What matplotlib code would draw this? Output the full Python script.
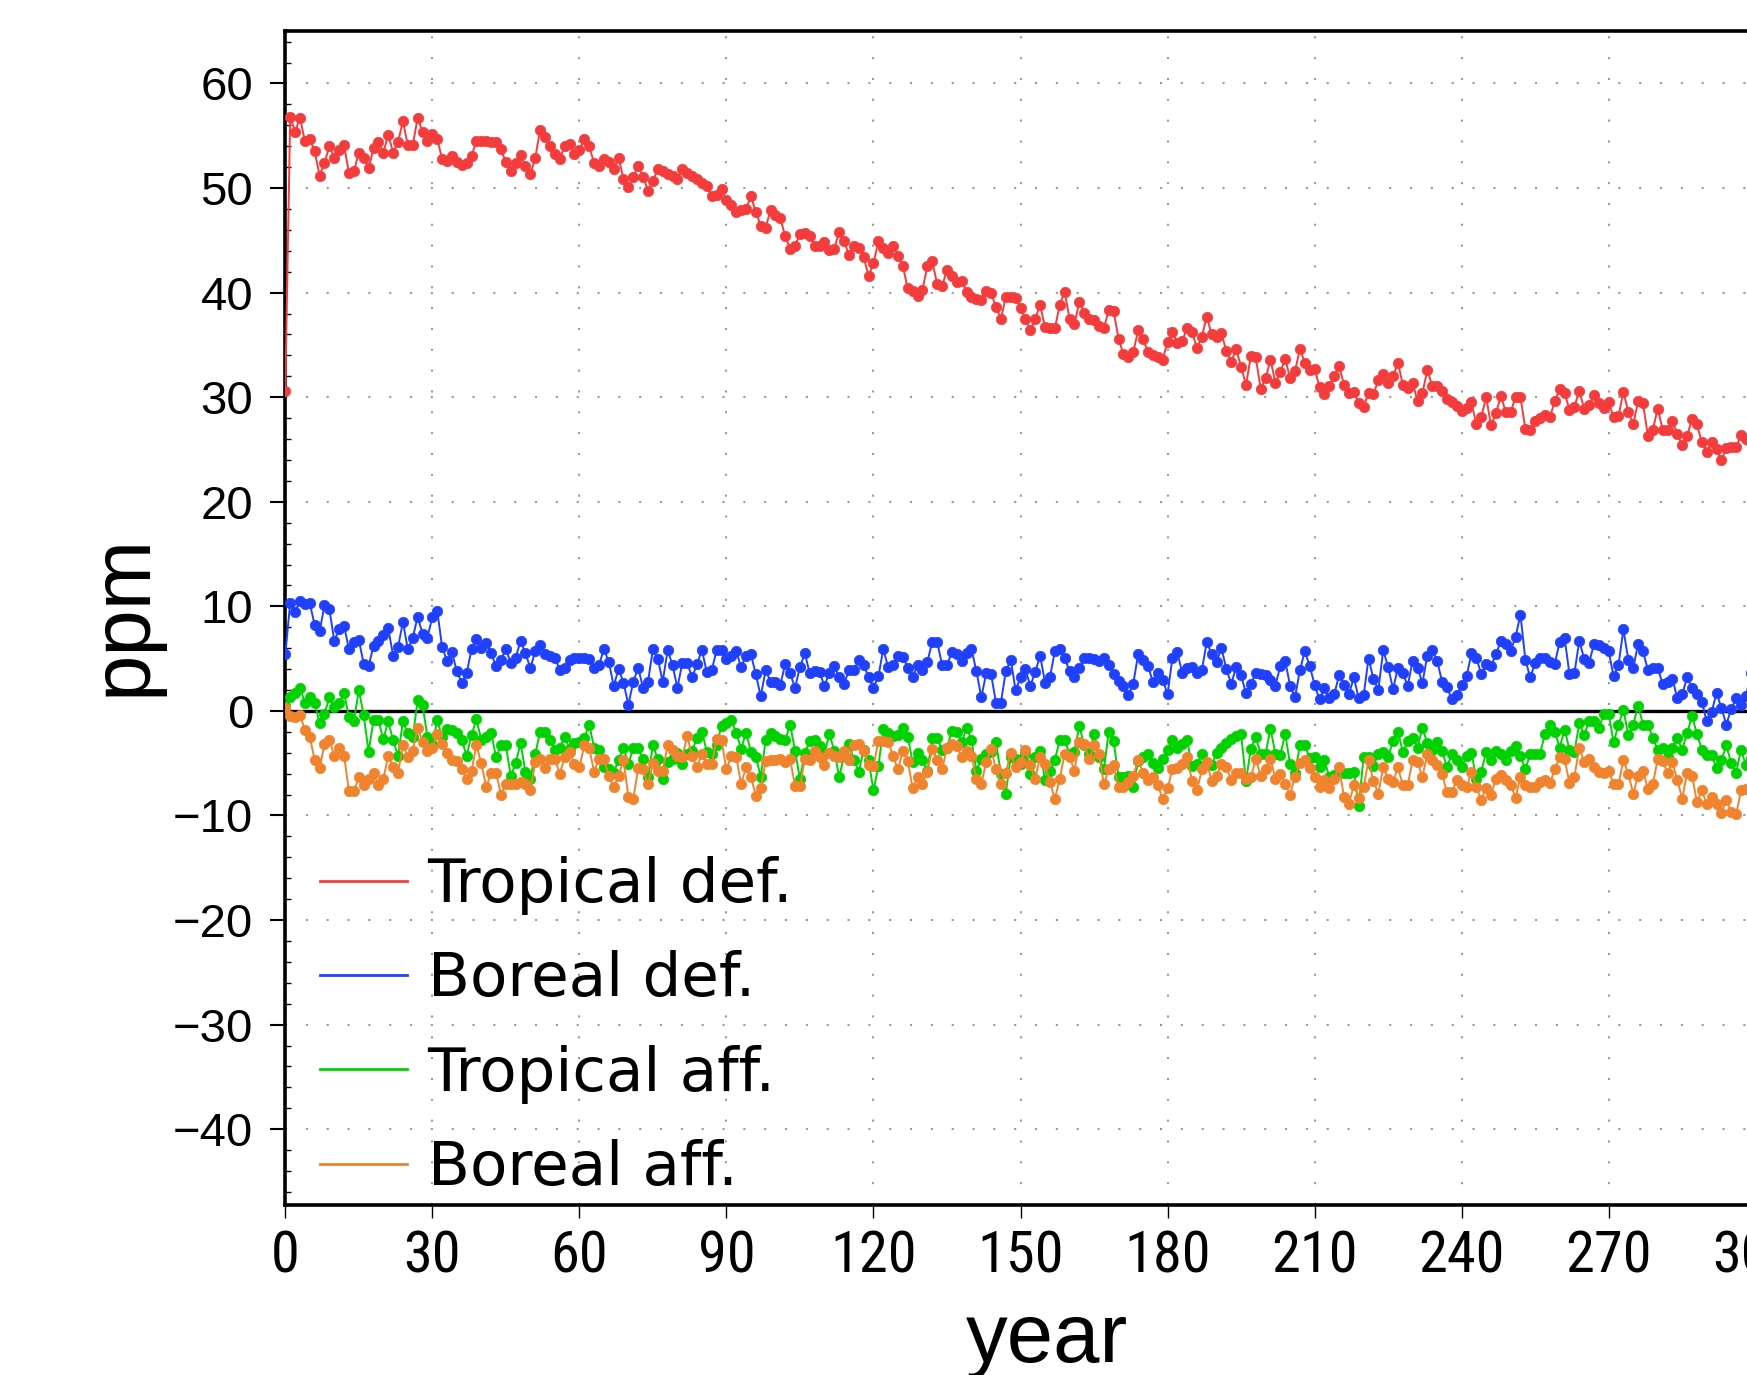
import numpy as np
import matplotlib.pyplot as plt
from matplotlib.lines import Line2D
from matplotlib.ticker import MultipleLocator
from matplotlib import font_manager

# values, one per year (0..299)
tropical_def = [
    30.6, 56.8, 55.4, 56.7, 54.5, 54.7, 53.5, 51.2, 52.4, 54.0,
    52.9, 53.6, 54.1, 51.4, 51.6, 53.4, 52.9, 51.9, 53.8, 54.4,
    53.4, 55.1, 53.4, 54.4, 56.4, 54.1, 54.1, 56.7, 55.4, 54.5,
    55.2, 54.7, 52.8, 52.6, 53.1, 52.5, 52.2, 52.4, 53.1, 54.5,
    54.5, 54.5, 54.4, 54.4, 53.7, 52.5, 51.6, 52.4, 53.2, 52.1,
    51.3, 52.9, 55.6, 54.9, 54.0, 53.3, 52.8, 54.0, 54.2, 53.3,
    53.6, 54.7, 54.0, 52.4, 52.1, 52.8, 52.5, 51.8, 52.9, 50.9,
    50.1, 51.1, 52.1, 51.1, 49.7, 50.7, 51.8, 51.6, 51.3, 51.2,
    50.9, 51.8, 51.4, 51.2, 50.9, 50.5, 50.2, 49.2, 49.3, 49.9,
    48.9, 48.4, 47.7, 47.9, 48.0, 49.2, 47.7, 46.4, 46.2, 47.9,
    47.4, 47.1, 45.4, 44.2, 44.5, 45.6, 45.7, 45.4, 44.5, 44.5,
    44.8, 44.1, 44.2, 45.8, 44.9, 43.6, 44.5, 44.3, 43.4, 41.6,
    42.8, 44.9, 44.3, 43.8, 44.5, 43.5, 42.5, 40.4, 40.2, 39.7,
    40.3, 42.5, 43.0, 40.8, 40.6, 42.2, 41.6, 41.0, 41.1, 40.1,
    39.6, 39.4, 39.3, 40.2, 40.0, 38.6, 37.5, 39.6, 39.6, 39.5,
    38.5, 37.5, 36.4, 37.5, 38.8, 36.7, 36.6, 36.6, 38.8, 40.1,
    37.5, 37.0, 39.1, 38.1, 37.5, 37.4, 36.8, 36.6, 38.3, 38.2,
    35.6, 34.1, 33.8, 34.3, 36.4, 35.6, 34.3, 34.0, 33.8, 33.6,
    35.3, 36.2, 35.2, 35.4, 36.6, 36.2, 34.7, 35.8, 37.7, 36.0,
    35.8, 36.1, 34.4, 33.4, 34.6, 32.9, 31.2, 33.9, 33.8, 30.8,
    31.8, 33.6, 31.4, 32.4, 33.7, 31.8, 32.5, 34.6, 33.3, 32.6,
    32.7, 31.0, 30.3, 31.1, 32.0, 33.0, 31.2, 30.4, 30.5, 29.4,
    29.1, 30.4, 30.3, 31.6, 32.2, 31.4, 32.0, 33.3, 31.2, 30.9,
    31.4, 29.6, 30.4, 32.6, 31.1, 31.1, 30.6, 29.8, 29.5, 29.2,
    28.7, 29.0, 29.5, 27.4, 28.1, 30.0, 27.3, 28.5, 30.1, 28.6,
    28.6, 30.0, 30.0, 27.0, 26.9, 27.7, 28.0, 28.3, 28.1, 29.6,
    30.8, 30.4, 28.8, 29.1, 30.6, 28.9, 29.3, 30.2, 29.4, 29.0,
    29.5, 28.1, 28.2, 30.5, 28.6, 27.4, 29.6, 29.4, 26.3, 26.9,
    28.9, 26.9, 26.9, 27.7, 26.5, 25.4, 26.3, 27.9, 27.4, 25.7,
    24.8, 25.7, 25.0, 24.0, 25.1, 25.2, 25.2, 26.4, 26.0, 25.6,
]

boreal_def = [
    5.4, 10.3, 9.5, 10.5, 10.2, 10.3, 8.2, 7.6, 10.1, 9.7,
    6.7, 7.8, 8.1, 5.9, 6.6, 6.8, 4.5, 4.3, 6.2, 6.7,
    7.3, 7.9, 5.3, 6.1, 8.5, 5.9, 7.0, 9.0, 7.4, 7.0,
    9.0, 9.6, 6.1, 4.8, 5.6, 3.8, 2.7, 3.6, 5.9, 6.9,
    6.0, 6.5, 5.5, 4.3, 4.9, 5.9, 4.6, 5.1, 6.7, 5.5,
    4.1, 5.7, 6.3, 5.4, 5.3, 5.1, 3.9, 4.1, 4.9, 5.1,
    5.1, 5.1, 5.0, 4.1, 4.4, 5.9, 4.7, 2.4, 4.0, 2.7,
    0.6, 2.8, 4.1, 2.2, 2.8, 5.9, 5.0, 2.8, 5.8, 4.4,
    2.2, 4.6, 4.6, 3.2, 4.5, 5.8, 3.7, 3.9, 5.8, 5.8,
    5.0, 5.3, 5.7, 4.2, 5.3, 5.4, 3.5, 1.4, 3.9, 2.8,
    2.8, 2.5, 4.5, 3.6, 2.2, 4.2, 5.5, 3.6, 3.8, 3.7,
    2.4, 3.6, 4.3, 3.2, 2.6, 3.9, 3.9, 4.9, 4.4, 3.2,
    2.2, 3.3, 5.9, 4.2, 4.4, 5.3, 5.2, 4.1, 3.2, 4.4,
    3.9, 4.7, 6.6, 6.6, 4.4, 4.4, 5.6, 5.4, 4.8, 5.5,
    5.9, 3.8, 1.3, 3.6, 3.5, 0.8, 0.8, 3.8, 4.9, 2.0,
    3.2, 4.0, 2.4, 3.7, 5.3, 2.7, 3.2, 5.7, 5.9, 5.1,
    3.8, 3.2, 4.1, 5.1, 5.1, 5.0, 4.8, 5.1, 4.4, 3.5,
    2.9, 2.4, 1.5, 2.6, 5.4, 4.9, 4.3, 2.8, 3.6, 3.0,
    1.6, 5.1, 5.6, 3.6, 4.1, 4.2, 3.6, 3.9, 6.6, 5.4,
    4.7, 6.0, 4.0, 2.6, 4.2, 3.4, 1.7, 2.6, 3.6, 3.5,
    3.4, 3.0, 2.4, 4.3, 4.8, 2.4, 1.3, 3.9, 5.7, 4.3,
    2.5, 1.1, 2.2, 1.2, 1.6, 3.4, 2.5, 1.6, 3.2, 1.2,
    1.5, 5.0, 3.1, 2.0, 5.8, 4.2, 2.1, 4.1, 3.6, 2.4,
    4.8, 4.1, 2.7, 5.3, 5.8, 4.8, 2.8, 2.3, 1.1, 1.5,
    2.5, 3.3, 5.5, 5.1, 3.5, 4.5, 4.3, 5.4, 6.7, 6.4,
    5.7, 7.1, 9.2, 4.9, 3.2, 4.6, 5.1, 5.1, 4.7, 4.5,
    6.6, 7.0, 3.5, 3.6, 6.7, 5.0, 4.6, 6.4, 6.3, 6.0,
    5.7, 3.3, 4.4, 7.8, 4.9, 4.1, 6.4, 5.7, 3.9, 4.1,
    4.1, 2.6, 2.8, 3.1, 1.2, 1.6, 3.2, 2.2, 1.6, 0.9,
    -1.0, -0.1, 1.7, 0.3, -1.3, 0.2, 1.2, 0.6, 1.4, 3.6,
]

tropical_aff = [
    0.5, 1.3, 1.7, 2.2, 0.8, 1.3, 0.8, -1.2, -0.3, 1.3,
    0.4, 0.8, 1.7, -0.6, -1.0, 2.0, -0.4, -3.9, -0.9, -0.9,
    -2.7, -1.0, -2.8, -4.3, -1.0, -2.1, -2.5, 1.0, 0.6, -2.5,
    -3.2, -0.9, -2.5, -1.7, -1.8, -2.1, -2.8, -4.3, -2.3, -0.8,
    -2.8, -2.5, -2.1, -4.4, -3.3, -3.3, -6.2, -5.0, -3.1, -5.8,
    -6.5, -4.1, -2.0, -2.0, -2.8, -3.7, -3.5, -2.5, -3.6, -3.1,
    -3.0, -2.6, -1.3, -3.5, -3.7, -5.4, -5.6, -5.9, -4.7, -3.5,
    -5.1, -3.5, -3.5, -4.6, -6.3, -3.3, -4.6, -6.5, -4.9, -4.6,
    -4.0, -5.1, -4.1, -3.8, -2.6, -2.0, -3.9, -4.1, -3.3, -1.4,
    -1.2, -0.9, -2.1, -3.6, -2.1, -3.9, -4.4, -6.3, -2.8, -2.1,
    -2.4, -2.7, -2.8, -1.3, -3.8, -6.5, -4.0, -2.9, -2.8, -3.4,
    -4.1, -2.2, -3.8, -6.3, -4.3, -3.2, -4.7, -5.8, -3.7, -4.7,
    -7.6, -5.3, -1.7, -2.1, -2.4, -2.3, -1.6, -2.5, -4.9, -4.0,
    -4.7, -5.7, -2.6, -2.6, -3.7, -3.5, -1.9, -2.0, -3.0, -1.6,
    -2.8, -5.7, -4.6, -4.1, -3.9, -3.0, -6.0, -7.9, -4.4, -4.6,
    -5.1, -4.1, -6.0, -4.4, -3.8, -6.6, -5.7, -4.7, -2.8, -2.8,
    -4.1, -3.9, -1.4, -3.3, -4.1, -2.2, -4.4, -5.6, -2.0, -2.9,
    -6.3, -6.3, -6.2, -7.3, -4.8, -4.4, -4.1, -5.0, -5.5, -4.6,
    -3.7, -2.8, -3.5, -3.2, -2.8, -5.3, -5.1, -4.1, -5.1, -5.2,
    -4.0, -3.5, -3.1, -2.7, -2.4, -2.2, -6.7, -3.6, -2.5, -4.1,
    -4.1, -1.7, -4.1, -4.2, -2.2, -5.1, -5.9, -3.3, -3.3, -4.5,
    -4.4, -5.4, -4.7, -6.3, -6.1, -5.8, -5.9, -5.9, -5.8, -9.1,
    -4.4, -4.4, -5.3, -4.1, -3.9, -4.4, -2.9, -2.0, -3.9, -2.9,
    -2.6, -3.5, -1.6, -3.1, -3.7, -3.0, -3.8, -5.4, -4.1, -4.7,
    -5.4, -4.3, -4.0, -6.5, -5.8, -3.9, -4.7, -3.8, -4.1, -4.7,
    -3.8, -3.4, -4.3, -5.6, -4.1, -4.1, -4.1, -2.2, -1.3, -2.0,
    -3.5, -1.8, -3.7, -3.9, -1.2, -2.3, -1.0, -1.0, -1.6, -0.3,
    -0.3, -3.0, -1.3, 0.1, -2.3, -1.3, 0.5, -1.3, -1.3, -2.6,
    -3.7, -3.5, -4.4, -3.5, -2.6, -3.7, -2.1, -0.5, -2.2, -3.7,
    -4.2, -4.2, -5.5, -4.7, -3.3, -5.0, -5.9, -3.7, -5.2, -4.5,
]

boreal_aff = [
    0.3, -0.5, -0.6, -0.4, -1.8, -2.5, -4.7, -5.5, -3.2, -2.8,
    -4.3, -3.5, -4.3, -7.7, -7.7, -6.3, -7.1, -6.5, -5.9, -7.1,
    -6.5, -4.3, -5.4, -5.9, -3.3, -4.4, -3.8, -1.6, -3.0, -3.8,
    -3.5, -2.2, -3.2, -4.0, -4.7, -4.8, -5.6, -6.5, -5.7, -3.3,
    -5.0, -7.3, -5.9, -5.9, -8.0, -7.0, -7.0, -7.0, -6.8, -7.0,
    -7.6, -4.9, -4.6, -5.5, -4.6, -4.6, -6.0, -4.4, -3.9, -5.1,
    -5.4, -3.3, -3.5, -5.8, -4.6, -4.6, -6.2, -7.3, -6.2, -4.7,
    -8.2, -8.4, -5.5, -5.6, -7.0, -5.0, -5.7, -5.7, -3.3, -3.7,
    -4.3, -4.4, -2.4, -4.3, -5.4, -4.1, -5.1, -5.1, -2.7, -2.8,
    -5.6, -4.3, -4.4, -7.0, -5.4, -6.3, -8.1, -7.4, -4.8, -4.7,
    -4.7, -4.6, -4.9, -4.6, -7.2, -7.2, -4.6, -4.7, -3.8, -4.4,
    -5.2, -4.0, -4.3, -4.4, -3.8, -4.7, -3.3, -3.2, -3.8, -5.2,
    -5.3, -2.9, -2.9, -3.0, -4.3, -5.6, -3.8, -4.8, -7.4, -6.3,
    -7.0, -5.8, -3.6, -4.7, -5.6, -3.5, -3.2, -3.4, -4.4, -3.8,
    -4.3, -6.5, -7.0, -4.9, -3.6, -5.6, -7.0, -5.9, -4.0, -5.4,
    -4.9, -3.7, -5.2, -6.5, -4.4, -5.1, -6.8, -8.4, -6.5, -4.1,
    -4.4, -5.7, -3.0, -3.2, -4.6, -3.3, -4.1, -7.0, -5.6, -5.2,
    -7.3, -7.3, -6.8, -6.2, -4.7, -5.9, -6.6, -6.3, -7.1, -8.4,
    -7.4, -5.6, -5.5, -5.1, -4.4, -6.7, -7.6, -5.6, -4.9, -6.7,
    -6.2, -5.1, -5.4, -6.6, -5.9, -5.9, -6.5, -6.3, -4.6, -6.2,
    -5.6, -4.6, -6.5, -6.0, -7.0, -8.0, -6.3, -5.0, -4.7, -5.5,
    -6.3, -7.3, -6.6, -7.4, -6.5, -5.4, -8.2, -8.9, -7.1, -8.3,
    -7.3, -4.7, -6.7, -7.9, -5.4, -6.5, -6.8, -5.4, -7.1, -7.1,
    -4.7, -4.9, -6.3, -4.1, -4.7, -5.2, -6.0, -7.8, -7.8, -6.6,
    -7.1, -7.3, -5.8, -7.3, -8.5, -7.4, -8.0, -6.5, -6.1, -6.6,
    -7.1, -8.3, -6.3, -7.1, -7.3, -7.3, -6.8, -6.6, -6.9, -5.6,
    -4.4, -4.6, -6.9, -6.3, -3.5, -4.9, -4.6, -5.4, -5.8, -5.9,
    -5.7, -7.0, -7.0, -4.7, -6.0, -7.9, -6.2, -5.7, -7.5, -7.0,
    -4.6, -4.8, -5.9, -4.9, -6.6, -8.4, -5.9, -6.2, -8.7, -7.6,
    -8.9, -8.2, -8.9, -9.8, -8.5, -9.7, -9.9, -7.6, -7.5, -7.5,
]

labels = ['Tropical def.', 'Boreal def.', 'Tropical aff.', 'Boreal aff.']
colors = ['#f43c3c', '#2040ff', '#00d200', '#f0842e']
series = [tropical_def, boreal_def, tropical_aff, boreal_aff]

for s in series:
    assert len(s) == 300, len(s)
years = np.arange(300)


def first_font(names):
    for name in names:
        try:
            font_manager.findfont(font_manager.FontProperties(family=name),
                                  fallback_to_default=False)
            return name
        except ValueError:
            pass
    return None


narrow = first_font(['Liberation Sans Narrow', 'DejaVu Sans Condensed',
                     'Roboto Condensed', 'Open Sans Condensed'])

fig = plt.figure(figsize=(17.47, 13.75), dpi=100)
ax = fig.add_axes([0.1633, 0.124, 0.8417, 0.8533])

ax.axhline(0, color='black', lw=2.4, zorder=2)
for vals, c in zip(series, colors):
    ax.plot(years, vals, color=c, lw=1.4, marker='o', ms=7.5,
            mfc=c, mec=c, mew=0.5, zorder=3)

ax.set_xlim(0, 300)
ax.set_ylim(-47.2, 65)
ax.set_xticks(range(0, 301, 30))
ax.set_yticks(range(-40, 61, 10))
ax.yaxis.set_minor_locator(MultipleLocator(2))

ax.grid(True, which='major', color='#9a9a9a', linestyle=(0, (1, 9)), lw=1.5)

for side in ['left', 'top', 'bottom']:
    ax.spines[side].set_linewidth(2.6)
ax.spines['right'].set_visible(False)

ax.tick_params(axis='y', which='major', direction='out', length=11, width=1.5,
               pad=12, labelsize=34)
ax.tick_params(axis='y', which='minor', direction='in', length=4, width=1)
ax.tick_params(axis='x', which='major', direction='out', length=9, width=1,
               pad=9, labelsize=42 if narrow else 38)
for lbl in ax.get_xticklabels():
    if narrow:
        lbl.set_fontfamily([narrow, 'DejaVu Sans'])
    else:
        lbl.set_fontfamily(['Liberation Sans', 'DejaVu Sans'])
for lbl in ax.get_yticklabels():
    lbl.set_fontfamily(['Liberation Sans', 'DejaVu Sans'])

# legend: lines only, no frame
handles = [Line2D([], [], color=c, lw=2) for c in colors]
fig.legend(handles, labels, loc='upper left', bbox_to_anchor=(0.1832, 0.3775),
           frameon=False, prop={'family': 'DejaVu Sans', 'size': 44},
           handlelength=1.43, handletextpad=0.33, labelspacing=0.58,
           borderpad=0, borderaxespad=0)

fig.text(0.0708, 0.5527, 'ppm', rotation=90, ha='center', va='center',
         fontsize=60, family=['Liberation Sans', 'DejaVu Sans'])
fig.text(0.5995, 0.0097, 'year', ha='center', va='baseline',
         fontsize=60, family=['Liberation Sans', 'DejaVu Sans'])

fig.savefig('out.png', dpi=100)
